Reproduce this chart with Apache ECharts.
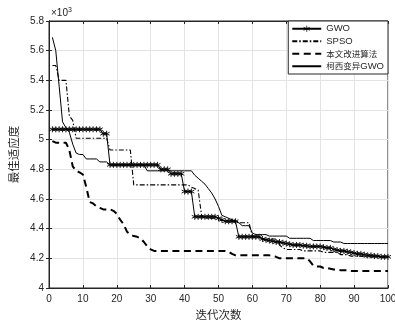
<!DOCTYPE html>
<html>
<head>
<meta charset="utf-8">
<script src="https://cdn.jsdelivr.net/npm/echarts@6/dist/echarts.min.js"></script>
<style>
  html, body { margin: 0; padding: 0; background: #fff; }
  #chart { width: 395px; height: 320px; }
</style>
</head>
<body>
<div id="chart"></div>
<script>
// values in units of 10^3, iteration 1..100
const gwo = [
  5.07, 5.07, 5.07, 5.07, 5.07, 5.07, 5.07, 5.07, 5.07, 5.07,
  5.07, 5.07, 5.07, 5.07, 5.07, 5.04, 5.04, 4.83, 4.83, 4.83,
  4.83, 4.83, 4.83, 4.83, 4.83, 4.83, 4.83, 4.83, 4.83, 4.83,
  4.83, 4.83, 4.80, 4.80, 4.80, 4.77, 4.77, 4.77, 4.77, 4.65,
  4.65, 4.65, 4.48, 4.48, 4.48, 4.48, 4.48, 4.48, 4.48, 4.47,
  4.46, 4.45, 4.45, 4.45, 4.45, 4.345, 4.345, 4.345, 4.345, 4.345,
  4.345, 4.345, 4.33, 4.325, 4.32, 4.315, 4.31, 4.31, 4.305, 4.30,
  4.295, 4.29, 4.29, 4.29, 4.285, 4.285, 4.28, 4.28, 4.28, 4.28,
  4.275, 4.27, 4.27, 4.26, 4.255, 4.25, 4.25, 4.245, 4.24, 4.235,
  4.23, 4.23, 4.225, 4.22, 4.22, 4.215, 4.215, 4.21, 4.21, 4.21
];
const spso = [
  5.50, 5.50, 5.40, 5.40, 5.40, 5.16, 5.13, 5.01, 5.01, 5.01,
  5.01, 5.01, 5.01, 5.01, 5.01, 5.01, 5.01, 4.93, 4.93, 4.93,
  4.93, 4.93, 4.93, 4.93, 4.695, 4.695, 4.695, 4.695, 4.695, 4.695,
  4.695, 4.695, 4.695, 4.695, 4.695, 4.695, 4.695, 4.695, 4.695, 4.695,
  4.695, 4.68, 4.67, 4.66, 4.49, 4.47, 4.47, 4.47, 4.47, 4.47,
  4.455, 4.455, 4.455, 4.455, 4.455, 4.44, 4.44, 4.44, 4.44, 4.35,
  4.345, 4.345, 4.33, 4.33, 4.33, 4.33, 4.33, 4.29, 4.27, 4.26,
  4.26, 4.26, 4.26, 4.26, 4.25, 4.25, 4.25, 4.25, 4.25, 4.25,
  4.24, 4.24, 4.24, 4.24, 4.24, 4.225, 4.225, 4.225, 4.215, 4.215,
  4.215, 4.215, 4.21, 4.21, 4.21, 4.21, 4.21, 4.21, 4.21, 4.21
];
const improved = [
  4.99, 4.98, 4.98, 4.98, 4.98, 4.93, 4.82, 4.79, 4.78, 4.765,
  4.68, 4.58, 4.57, 4.55, 4.54, 4.53, 4.53, 4.53, 4.52, 4.50,
  4.46, 4.43, 4.38, 4.36, 4.35, 4.345, 4.335, 4.31, 4.28, 4.26,
  4.25, 4.25, 4.25, 4.25, 4.25, 4.25, 4.25, 4.25, 4.25, 4.25,
  4.25, 4.25, 4.25, 4.25, 4.25, 4.25, 4.25, 4.25, 4.25, 4.25,
  4.25, 4.25, 4.245, 4.23, 4.22, 4.22, 4.22, 4.22, 4.22, 4.22,
  4.22, 4.22, 4.22, 4.22, 4.22, 4.215, 4.21, 4.20, 4.20, 4.20,
  4.20, 4.20, 4.20, 4.20, 4.20, 4.20, 4.18, 4.15, 4.145, 4.145,
  4.135, 4.135, 4.13, 4.125, 4.125, 4.12, 4.12, 4.12, 4.115, 4.115,
  4.115, 4.115, 4.115, 4.115, 4.115, 4.115, 4.115, 4.115, 4.115, 4.115
];
const cauchy = [
  5.69, 5.60, 5.36, 5.12, 5.08, 5.05, 4.97, 4.91, 4.90, 4.90,
  4.87, 4.87, 4.87, 4.87, 4.85, 4.85, 4.85, 4.83, 4.83, 4.83,
  4.83, 4.83, 4.83, 4.83, 4.83, 4.83, 4.83, 4.83, 4.79, 4.79,
  4.79, 4.79, 4.79, 4.79, 4.79, 4.79, 4.79, 4.79, 4.79, 4.79,
  4.79, 4.79, 4.76, 4.74, 4.72, 4.70, 4.67, 4.64, 4.60, 4.55,
  4.49, 4.48, 4.47, 4.46, 4.45, 4.44, 4.42, 4.42, 4.42, 4.37,
  4.36, 4.36, 4.36, 4.36, 4.35, 4.35, 4.35, 4.35, 4.35, 4.35,
  4.335, 4.335, 4.335, 4.335, 4.335, 4.335, 4.335, 4.32, 4.32, 4.32,
  4.32, 4.32, 4.32, 4.31, 4.31, 4.31, 4.30, 4.30, 4.30, 4.30,
  4.30, 4.30, 4.30, 4.30, 4.30, 4.30, 4.30, 4.30, 4.30, 4.30
];
const seriesNames = ['GWO', 'SPSO', '本文改进算法', '柯西变异GWO'];
const xTicks = { min: 0, max: 100, interval: 10 };
const yTicks = { min: 4, max: 5.8, interval: 0.2 };

const axisColor = '#262626';
const font = "'Liberation Sans', Arial, 'Noto Sans CJK SC', sans-serif";
const cjkFont = "'Noto Sans CJK SC', sans-serif";
const star = 'path://M0,-5L0,5M-4.3,-2.5L4.3,2.5M-4.3,2.5L4.3,-2.5';
const noMarker = { color: 'rgba(0,0,0,0)', borderColor: 'rgba(0,0,0,0)', borderWidth: 0 };

function pairs(arr) {
  return arr.map((v, i) => [i + 1, v]);
}

function makeAxis(pos, ticks, main, name) {
  return {
    type: 'value',
    position: pos,
    min: ticks.min,
    max: ticks.max,
    interval: ticks.interval,
    name: main ? name : '',
    nameLocation: 'middle',
    nameGap: pos === 'bottom' ? 17 : 24,
    nameTextStyle: { fontFamily: cjkFont, fontSize: 11.5, color: axisColor },
    axisLine: { show: true, lineStyle: { color: axisColor, width: 1 } },
    axisTick: { show: true, inside: true, length: 3, lineStyle: { color: axisColor } },
    axisLabel: {
      show: main,
      fontFamily: font,
      fontSize: 10,
      color: axisColor,
      margin: pos === 'bottom' ? 6 : 5
    },
    splitLine: { show: main, lineStyle: { color: '#e3e3e3', width: 1 } }
  };
}

const chartDom = document.getElementById('chart');
const myChart = echarts.init(chartDom, null, { renderer: 'canvas' });

const option = {
  animation: false,
  backgroundColor: '#fff',
  grid: {
    left: 49, right: 7, top: 21, bottom: 32,
    outerBoundsMode: 'none',
    show: true, borderColor: axisColor, borderWidth: 1
  },
  legend: {
    data: [
      { name: seriesNames[0], itemStyle: { borderWidth: 0.7 } },
      { name: seriesNames[1], itemStyle: noMarker },
      { name: seriesNames[2], itemStyle: noMarker },
      { name: seriesNames[3], itemStyle: noMarker }
    ],
    orient: 'vertical',
    right: 7,
    top: 21,
    itemWidth: 29,
    itemHeight: 8,
    itemGap: 1,
    padding: [2, 4, 2, 3],
    backgroundColor: '#fff',
    borderColor: axisColor,
    borderWidth: 1,
    borderRadius: 0,
    formatter: name => name.replace(/[\u4e00-\u9fff]+/g, m => '{c|' + m + '}'),
    textStyle: {
      fontFamily: font, fontSize: 9.5, color: axisColor, lineHeight: 11.5,
      rich: { c: { fontFamily: cjkFont, fontSize: 8.5, color: axisColor, lineHeight: 11.5 } }
    }
  },
  graphic: [
    {
      type: 'text',
      left: 51,
      top: 7,
      style: {
        text: '×10{s|3}',
        fontFamily: font,
        fontSize: 10,
        fill: axisColor,
        rich: { s: { fontSize: 7, verticalAlign: 'top', padding: [0, 0, 6, 0] } }
      }
    }
  ],
  xAxis: [
    makeAxis('bottom', xTicks, true, '迭代次数'),
    makeAxis('top', xTicks, false)
  ],
  yAxis: [
    makeAxis('left', yTicks, true, '最佳适应度'),
    makeAxis('right', yTicks, false)
  ],
  series: [
    {
      name: seriesNames[0],
      type: 'line',
      data: pairs(gwo),
      symbol: star,
      symbolSize: 6,
      showSymbol: true,
      showAllSymbol: true,
      lineStyle: { color: '#000', width: 1 },
      itemStyle: { color: '#000', borderColor: '#000', borderWidth: 0.9 },
      z: 3
    },
    {
      name: seriesNames[1],
      type: 'line',
      data: pairs(spso),
      showSymbol: false,
      symbol: 'none',
      lineStyle: { color: '#000', width: 1.1, type: [5, 2, 1.5, 2] },
      itemStyle: { color: '#000' },
      z: 4
    },
    {
      name: seriesNames[2],
      type: 'line',
      data: pairs(improved),
      showSymbol: false,
      symbol: 'none',
      lineStyle: { color: '#000', width: 2, type: [7, 4.5] },
      itemStyle: { color: '#000' },
      z: 5
    },
    {
      name: seriesNames[3],
      type: 'line',
      data: pairs(cauchy),
      showSymbol: false,
      symbol: 'none',
      lineStyle: { color: '#000', width: 1 },
      itemStyle: { color: '#000' },
      z: 6
    }
  ]
};

myChart.setOption(option);
window.addEventListener('resize', () => {
  myChart.resize();
});
</script>
</body>
</html>
